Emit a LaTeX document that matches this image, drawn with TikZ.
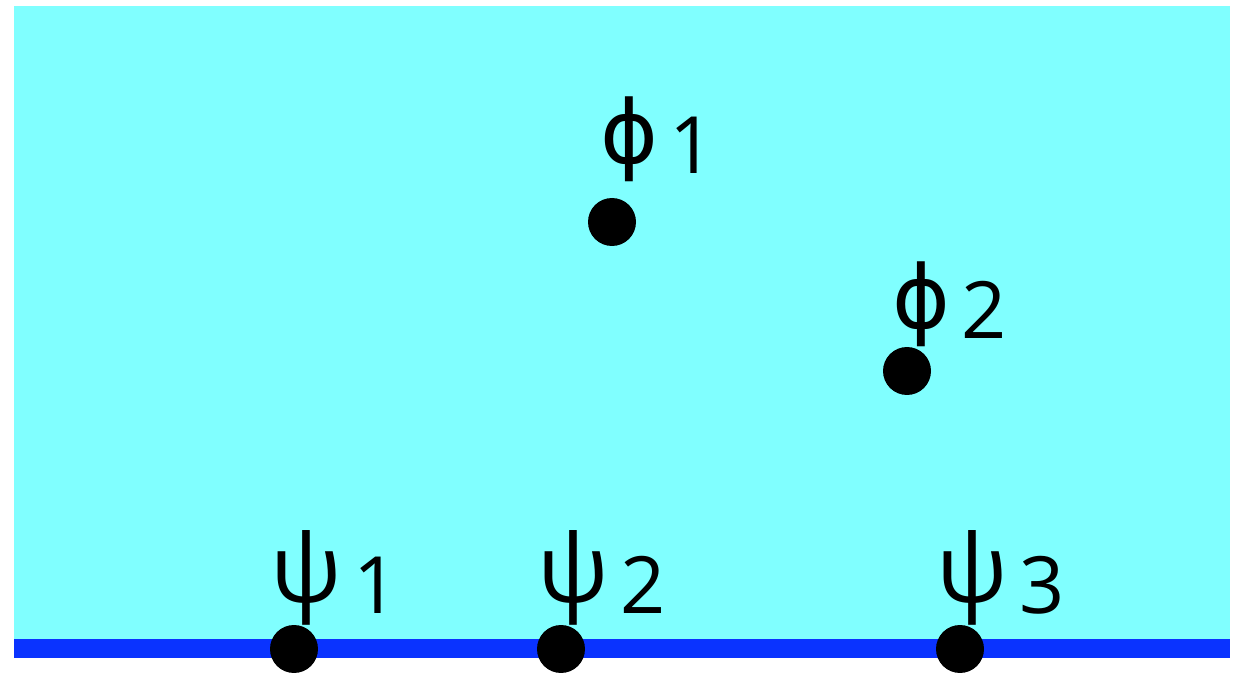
\documentclass[tikz,border=0pt]{standalone}
\usepackage{fontspec}
\setmainfont{Open Sans}
\newfontfamily\grk{DejaVu Sans}
\usetikzlibrary{positioning}
\definecolor{seacyan}{HTML}{80FFFF}
\definecolor{shoreblue}{HTML}{0A33FF}
\tikzset{
  dot/.style={circle, fill=black, inner sep=0pt, minimum size=0.96cm},
  lab/.style={anchor=base west, inner sep=0pt, font=\fontsize{54}{54}\selectfont},
}
\newcommand{\gr}[1]{\raisebox{0.22cm}{#1}}
\newcommand{\ph}{\raisebox{0.2cm}{\grk\fontsize{50}{50}\selectfont ϕ}}
\newcommand{\idx}[1]{\hspace{0.12em}{\fontsize{45}{45}\selectfont #1}}

\begin{document}
\begin{tikzpicture}[x=0.02cm, y=0.02cm]
    \useasboundingbox (0,0) rectangle (1241,673);
    % domain and boundary
    \fill[seacyan] (14,33) rectangle (1230,667);
    \draw[shoreblue, line width=0.38cm] (14,24.5) -- (1230,24.5);

    \node (p1) [dot] at (612,451) {};
    \node (p2) [dot] at (907,302) {};
    \node (s1) [dot] at (294,24) {};
    \node (s2) [dot] at (561,24) {};
    \node (s3) [dot] at (960,24) {};

    \node (lp1) [lab, xshift=-0.24cm, yshift=0.98cm] at (p1) {\ph\idx{1}};
    \node (lp2) [lab, xshift=-0.30cm, yshift=0.66cm] at (p2) {\ph\idx{2}};
    \node (ls1) [lab, xshift=-0.48cm, yshift=0.72cm] at (s1) {\gr{ψ}\idx{1}};
    \node (ls2) [lab, xshift=-0.48cm, yshift=0.72cm] at (s2) {\gr{ψ}\idx{2}};
    \node (ls3) [lab, xshift=-0.48cm, yshift=0.72cm] at (s3) {\gr{ψ}\idx{3}};
\end{tikzpicture}
\end{document}
